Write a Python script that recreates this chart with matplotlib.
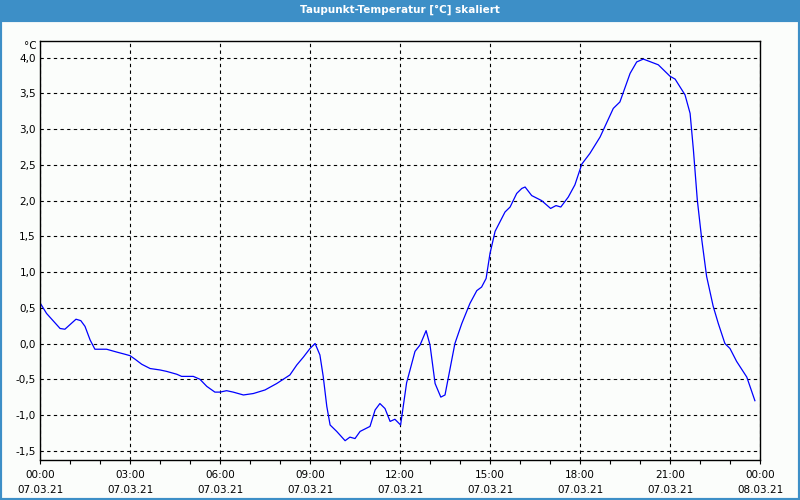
import matplotlib
matplotlib.use("Agg")
import matplotlib.pyplot as plt
from matplotlib.patches import Rectangle
from matplotlib.ticker import MultipleLocator, FuncFormatter

# hours since 07.03.21 00:00 and dew point temperature in °C
hours = [0.03, 0.22, 0.67, 0.83, 1.2, 1.36, 1.5, 1.67, 1.83, 2.22, 2.56, 2.83, 3.0, 3.17,
         3.39, 3.67, 4.0, 4.22, 4.56, 4.72, 5.11, 5.33, 5.56, 5.83, 6.0, 6.22, 6.44, 6.78,
         7.11, 7.5, 7.89, 8.33, 8.56, 8.78, 9.0, 9.17, 9.33, 9.44, 9.56, 9.67, 9.89, 10.17,
         10.33, 10.5, 10.67, 11.0, 11.17, 11.33, 11.5, 11.67, 11.83, 12.02, 12.22, 12.5,
         12.67, 12.87, 13.0, 13.17, 13.36, 13.5, 13.83, 14.06, 14.33, 14.56, 14.72, 14.87,
         15.0, 15.17, 15.5, 15.67, 15.89, 16.06, 16.17, 16.39, 16.72, 17.02, 17.2, 17.36,
         17.61, 17.83, 18.06, 18.33, 18.67, 19.11, 19.33, 19.67, 19.89, 20.11, 20.61, 21.0,
         21.17, 21.5, 21.67, 21.78, 21.91, 22.06, 22.22, 22.44, 22.61, 22.83, 23.0, 23.22,
         23.56, 23.83]
dewpoint = [0.55, 0.42, 0.21, 0.20, 0.34, 0.32, 0.24, 0.05, -0.08, -0.08, -0.12, -0.15,
            -0.17, -0.22, -0.29, -0.35, -0.37, -0.39, -0.43, -0.46, -0.46, -0.50, -0.60,
            -0.68, -0.68, -0.66, -0.68, -0.72, -0.70, -0.65, -0.56, -0.44, -0.30, -0.19,
            -0.07, 0.00, -0.16, -0.46, -0.88, -1.14, -1.23, -1.36, -1.31, -1.33, -1.23,
            -1.16, -0.93, -0.84, -0.91, -1.09, -1.06, -1.14, -0.55, -0.11, -0.02, 0.18,
            -0.02, -0.56, -0.75, -0.72, 0.00, 0.28, 0.56, 0.74, 0.79, 0.91, 1.26, 1.57,
            1.84, 1.91, 2.10, 2.17, 2.19, 2.07, 2.00, 1.89, 1.93, 1.91, 2.05, 2.22, 2.51,
            2.66, 2.89, 3.29, 3.38, 3.78, 3.94, 3.98, 3.90, 3.74, 3.70, 3.48, 3.22, 2.71,
            2.01, 1.45, 0.94, 0.52, 0.28, 0.00, -0.07, -0.25, -0.47, -0.80]

BORDER = "#3d8fc7"
BG = "#fbfdfb"
FONT = 7.5

fig = plt.figure(figsize=(8, 5), dpi=100, facecolor=BG)

# window title bar and frame
fig.patches.append(Rectangle((0, 0.96), 1, 0.04, transform=fig.transFigure,
                             facecolor=BORDER, edgecolor="none", zorder=0))
fig.patches.append(Rectangle((0.0, 0.0), 1.0, 0.96, transform=fig.transFigure,
                             facecolor="none", edgecolor=BORDER, linewidth=3.0, zorder=0))
fig.text(0.5, 0.98, "Taupunkt-Temperatur [°C] skaliert", ha="center", va="center",
         color="white", fontsize=FONT, fontweight="bold")

ax = fig.add_axes([0.05, 0.08, 0.90, 0.839])
ax.set_facecolor(BG)
ax.plot(hours, dewpoint, color="#0000ff", linewidth=0.9)

ax.set_xlim(0, 24)
ax.set_ylim(-1.63, 4.24)

ax.xaxis.set_major_locator(MultipleLocator(3))
ax.xaxis.set_minor_locator(MultipleLocator(1))
ax.yaxis.set_major_locator(MultipleLocator(0.5))


def xfmt(x, pos):
    h = int(round(x))
    day = 7 + h // 24
    return f"{h % 24:02d}:00\n{day:02d}.03.21"


ax.xaxis.set_major_formatter(FuncFormatter(xfmt))
ax.yaxis.set_major_formatter(FuncFormatter(lambda v, p: f"{v:.1f}".replace(".", ",")))

ax.grid(True, which="major", color="black", linestyle=(0, (3, 3)), linewidth=0.8)
for s in ax.spines.values():
    s.set_linewidth(1.0)

ax.tick_params(axis="x", which="both", length=3, width=0.8, direction="out",
               labelsize=FONT, pad=4)
ax.tick_params(axis="y", length=0, labelsize=FONT, pad=3)
for lbl in ax.get_xticklabels():
    lbl.set_linespacing(1.6)

ax.text(-0.005, 1.0, "°C", transform=ax.transAxes, ha="right", va="top", fontsize=FONT)

fig.savefig("out.png", dpi=100, facecolor=BG)
